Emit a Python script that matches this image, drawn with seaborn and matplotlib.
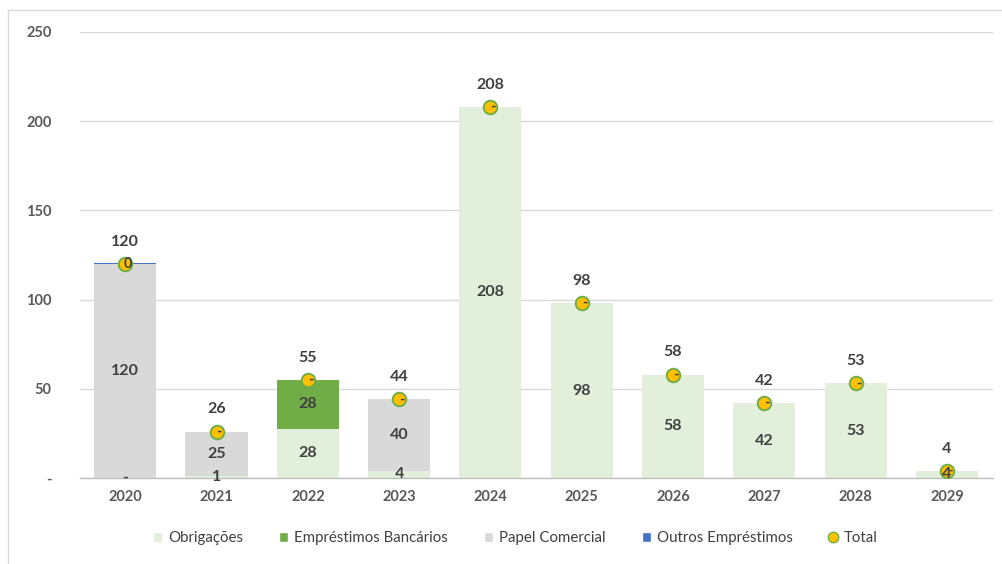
import pandas as pd
import matplotlib.pyplot as plt
import seaborn as sns
import matplotlib.patches as mpatches
from matplotlib.lines import Line2D

# data (values in millions)
years = ["2020", "2021", "2022", "2023", "2024", "2025", "2026", "2027", "2028", "2029"]
obrigacoes = [0, 1, 27.6, 4, 208, 98, 58, 42, 53, 4]
emprestimos = [0, 0, 27.6, 0, 0, 0, 0, 0, 0, 0]
papel = [120, 25, 0, 40, 0, 0, 0, 0, 0, 0]
outros = [0.3, 0, 0, 0, 0, 0, 0, 0, 0, 0]
total = [120, 26, 55, 44, 208, 98, 58, 42, 53, 4]

C_OBR = "#E2EFDA"
C_EMP = "#70AD47"
C_PAP = "#D9D9D9"
C_OUT = "#4472C4"
C_TOT = "#FFC000"
TXT = "#404040"

sns.set_style("white")
plt.rcParams["font.family"] = ["Lato", "DejaVu Sans"]

df = pd.DataFrame({"year": years, "obr": obrigacoes, "emp": emprestimos,
                   "pap": papel, "out": outros, "total": total})
df["c1"] = df["obr"]
df["c2"] = df["c1"] + df["emp"]
df["c3"] = df["c2"] + df["pap"]
df["c4"] = df["c3"] + df["out"]

fig, ax = plt.subplots(figsize=(10.03, 5.64), dpi=100)
plt.subplots_adjust(left=0.0793, right=0.9897, bottom=0.1525, top=0.9433)

# stacked bars drawn from the top of the stack downwards
for col, color in [("c4", C_OUT), ("c3", C_PAP), ("c2", C_EMP), ("c1", C_OBR)]:
    sns.barplot(data=df, x="year", y=col, color=color, width=0.68,
                saturation=1, ax=ax, zorder=2, linewidth=0)

sns.scatterplot(data=df, x="year", y="total", s=95, color=C_TOT,
                edgecolor=C_EMP, linewidth=1.4, ax=ax, zorder=4, legend=False)


def fmt(v):
    return "-" if v == 0 else f"{v:.0f}"


for i in range(len(years)):
    # Obrigações
    ax.text(i, df["obr"][i] / 2, fmt(df["obr"][i]), ha="center", va="center",
            fontsize=11.5, fontweight="bold", color=TXT, zorder=5)
    if df["emp"][i] > 0:
        ax.text(i, df["c1"][i] + df["emp"][i] / 2, fmt(df["emp"][i]), ha="center",
                va="center", fontsize=11.5, fontweight="bold", color=TXT, zorder=5)
    if df["pap"][i] > 0:
        ax.text(i, df["c2"][i] + df["pap"][i] / 2, fmt(df["pap"][i]), ha="center",
                va="center", fontsize=11.5, fontweight="bold", color=TXT, zorder=5)
    # Outros Empréstimos label sits on the stack top
    ax.text(i + 0.03, df["c3"][i] + df["out"][i] / 2, fmt(df["out"][i]), ha="center",
            va="center", fontsize=10.5, fontweight="bold", color=TXT, zorder=5)
    # Total
    ax.annotate(fmt(df["total"][i]), (i, df["total"][i]), xytext=(0, 16),
                textcoords="offset points", ha="center", va="center",
                fontsize=11.5, fontweight="bold", color=TXT, zorder=5)

ax.set_xlim(-0.5, len(years) - 0.5)
ax.set_ylim(0, 250)
ax.set_yticks([0, 50, 100, 150, 200, 250])
ax.set_yticklabels(["-", "50", "100", "150", "200", "250"])
ax.yaxis.grid(True, color="#D9D9D9", linewidth=1, zorder=0)
ax.set_axisbelow(True)
ax.set_xlabel("")
ax.set_ylabel("")
ax.tick_params(axis="y", length=0, pad=20, labelsize=10.5, labelcolor="#595959")
ax.tick_params(axis="x", length=0, pad=9, labelsize=10.5, labelcolor="#595959")
for lbl in ax.get_xticklabels() + ax.get_yticklabels():
    lbl.set_fontweight("bold")

for s in ["top", "right", "left"]:
    ax.spines[s].set_visible(False)
ax.spines["bottom"].set_color("#BFBFBF")
ax.spines["bottom"].set_linewidth(1)
ax.spines["bottom"].set_zorder(3)

handles = [
    mpatches.Patch(facecolor=C_OBR, label="Obrigações"),
    mpatches.Patch(facecolor=C_EMP, label="Empréstimos Bancários"),
    mpatches.Patch(facecolor=C_PAP, label="Papel Comercial"),
    mpatches.Patch(facecolor=C_OUT, label="Outros Empréstimos"),
    Line2D([], [], marker="o", linestyle="none", markersize=7.5,
           markerfacecolor=C_TOT, markeredgecolor=C_EMP, label="Total"),
]
leg = fig.legend(handles=handles, loc="center", bbox_to_anchor=(0.514, 0.046),
                 ncol=5, frameon=False, fontsize=10.8, handlelength=0.6,
                 handleheight=0.6, handletextpad=0.4, columnspacing=2.4)
for t in leg.get_texts():
    t.set_color("#404040")

# light frame around the chart area
fig.patches.append(mpatches.Rectangle((8 / 1003, -0.02), 1.0, 1 - 10 / 564 + 0.02,
                                      transform=fig.transFigure, fill=False,
                                      edgecolor="#D9D9D9", linewidth=1))

plt.savefig("out.png", dpi=100)
plt.close()
